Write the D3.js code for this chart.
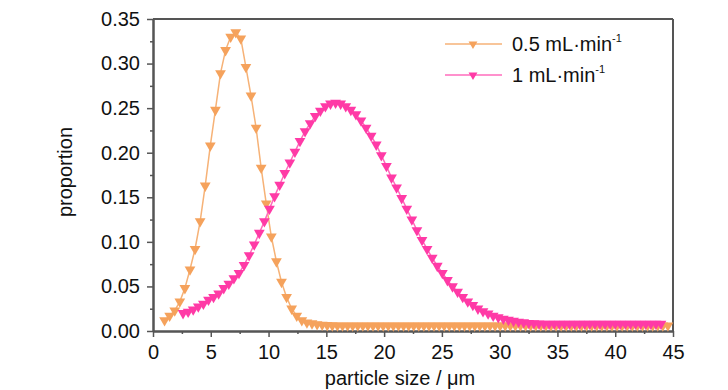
<!DOCTYPE html>
<html>
<head>
<meta charset="utf-8">
<script src="https://cdn.jsdelivr.net/npm/d3@7"></script>
<style>
  body { margin: 0; background: #fff; }
  svg { display: block; font-family: "Liberation Sans", Arial, sans-serif; }
</style>
</head>
<body>
<div id="chart"></div>
<script>
// Series: particle size (um) and proportion
const orangeX = [
  1.00, 1.44, 1.88, 2.32, 2.76, 3.20, 3.64, 4.08, 4.52, 4.96,
  5.40, 5.84, 6.28, 6.72, 7.16, 7.60, 8.04, 8.48, 8.92, 9.36,
  9.80, 10.24, 10.68, 11.12, 11.56, 12.00, 12.44, 12.88, 13.32, 13.76,
  14.20, 14.64, 15.08, 15.52, 15.96, 16.40, 16.84, 17.28, 17.72, 18.16,
  18.60, 19.04, 19.48, 19.92, 20.36, 20.80, 21.24, 21.68, 22.12, 22.56,
  23.00, 23.44, 23.88, 24.32, 24.76, 25.20, 25.64, 26.08, 26.52, 26.96,
  27.40, 27.84, 28.28, 28.72, 29.16, 29.60, 30.04, 30.48, 30.92, 31.36,
  31.80, 32.24, 32.68, 33.12, 33.56, 34.00, 34.44, 34.88, 35.32, 35.76,
  36.20, 36.64, 37.08, 37.52, 37.96, 38.40, 38.84, 39.28, 39.72, 40.16,
  40.60, 41.04, 41.48, 41.92, 42.36, 42.80, 43.24, 43.68, 44.12, 44.56
];
const orangeY = [
  0.012, 0.017, 0.023, 0.033, 0.048, 0.069, 0.092, 0.123, 0.163, 0.208,
  0.248, 0.289, 0.315, 0.330, 0.335, 0.328, 0.296, 0.264, 0.228, 0.183,
  0.143, 0.106, 0.078, 0.055, 0.038, 0.025, 0.017, 0.012, 0.0095, 0.0085,
  0.0075, 0.007, 0.0065, 0.0062, 0.006, 0.006, 0.006, 0.006, 0.006, 0.006,
  0.006, 0.006, 0.006, 0.006, 0.006, 0.006, 0.006, 0.006, 0.006, 0.006,
  0.006, 0.006, 0.006, 0.006, 0.006, 0.006, 0.006, 0.006, 0.006, 0.006,
  0.006, 0.006, 0.006, 0.006, 0.006, 0.006, 0.006, 0.006, 0.006, 0.006,
  0.006, 0.006, 0.006, 0.006, 0.006, 0.006, 0.006, 0.006, 0.006, 0.006,
  0.006, 0.006, 0.006, 0.006, 0.006, 0.006, 0.006, 0.006, 0.006, 0.006,
  0.006, 0.006, 0.006, 0.006, 0.006, 0.006, 0.006, 0.006, 0.006, 0.006
];
const pinkX = [
  2.60, 3.04, 3.48, 3.92, 4.36, 4.80, 5.24, 5.68, 6.12, 6.56,
  7.00, 7.44, 7.88, 8.32, 8.76, 9.20, 9.64, 10.08, 10.52, 10.96,
  11.40, 11.84, 12.28, 12.72, 13.16, 13.60, 14.04, 14.48, 14.92, 15.36,
  15.80, 16.24, 16.68, 17.12, 17.56, 18.00, 18.44, 18.88, 19.32, 19.76,
  20.20, 20.64, 21.08, 21.52, 21.96, 22.40, 22.84, 23.28, 23.72, 24.16,
  24.60, 25.04, 25.48, 25.92, 26.36, 26.80, 27.24, 27.68, 28.12, 28.56,
  29.00, 29.44, 29.88, 30.32, 30.76, 31.20, 31.64, 32.08, 32.52, 32.96,
  33.40, 33.84, 34.28, 34.72, 35.16, 35.60, 36.04, 36.48, 36.92, 37.36,
  37.80, 38.24, 38.68, 39.12, 39.56, 40.00, 40.44, 40.88, 41.32, 41.76,
  42.20, 42.64, 43.08, 43.52, 43.96
];
const pinkY = [
  0.020, 0.0215, 0.024, 0.0275, 0.0305, 0.035, 0.038, 0.042, 0.048, 0.053,
  0.059, 0.065, 0.074, 0.085, 0.097, 0.110, 0.123, 0.137, 0.151, 0.164,
  0.177, 0.189, 0.201, 0.213, 0.224, 0.233, 0.241, 0.247, 0.252, 0.255,
  0.256, 0.255, 0.252, 0.248, 0.243, 0.236, 0.228, 0.219, 0.209, 0.197,
  0.185, 0.172, 0.161, 0.149, 0.137, 0.125, 0.113, 0.102, 0.092, 0.082,
  0.073, 0.065, 0.057, 0.050, 0.044, 0.038, 0.033, 0.029, 0.025, 0.022,
  0.0195, 0.017, 0.0153, 0.0137, 0.0124, 0.0113, 0.0104, 0.0096, 0.0090, 0.0086,
  0.0083, 0.0081, 0.0080, 0.008, 0.008, 0.008, 0.008, 0.008, 0.008, 0.008,
  0.008, 0.008, 0.008, 0.008, 0.008, 0.008, 0.008, 0.008, 0.008, 0.008,
  0.008, 0.008, 0.008, 0.008, 0.008
];
const xTicks = [0, 5, 10, 15, 20, 25, 30, 35, 40, 45];
const xMinorTicks = [2.5, 7.5, 12.5, 17.5, 22.5, 27.5, 32.5, 37.5, 42.5];
const yTicks = [0, 0.05, 0.10, 0.15, 0.20, 0.25, 0.30, 0.35];
const yMinorTicks = [0.025, 0.075, 0.125, 0.175, 0.225, 0.275, 0.325];
const seriesLabels = ["0.5 mL·min", "1 mL·min"];

const width = 728, height = 390;
const plot = { left: 153, right: 673, top: 19, bottom: 331 };
const axisColor = "#555";

const svg = d3.select("#chart").append("svg")
  .attr("width", width)
  .attr("height", height);

const x = d3.scaleLinear().domain([0, 45]).range([plot.left, plot.right]);
const y = d3.scaleLinear().domain([0, 0.35]).range([plot.bottom, plot.top]);

// frame top + right
svg.append("line")
  .attr("x1", plot.left).attr("x2", plot.right)
  .attr("y1", plot.top).attr("y2", plot.top)
  .attr("stroke", axisColor).attr("stroke-width", 2);
svg.append("line")
  .attr("x1", plot.right).attr("x2", plot.right)
  .attr("y1", plot.top).attr("y2", plot.bottom)
  .attr("stroke", axisColor).attr("stroke-width", 2);

// axes
const styleAxis = g => {
  g.select(".domain").attr("stroke", axisColor).attr("stroke-width", 2);
  g.selectAll(".tick line").attr("stroke", axisColor).attr("stroke-width", 1.5);
  g.selectAll(".tick text").attr("fill", "#111").style("font-size", "20px");
};

svg.append("g")
  .attr("transform", `translate(0,${plot.bottom})`)
  .call(d3.axisBottom(x).tickValues(xMinorTicks).tickSize(3).tickSizeOuter(0).tickFormat(""))
  .call(styleAxis);
svg.append("g")
  .attr("transform", `translate(0,${plot.bottom})`)
  .call(d3.axisBottom(x).tickValues(xTicks).tickSize(6).tickSizeOuter(0).tickPadding(8).tickFormat(d3.format("d")))
  .call(styleAxis);

svg.append("g")
  .attr("transform", `translate(${plot.left},0)`)
  .call(d3.axisLeft(y).tickValues(yMinorTicks).tickSize(3).tickSizeOuter(0).tickFormat(""))
  .call(styleAxis);
svg.append("g")
  .attr("transform", `translate(${plot.left},0)`)
  .call(d3.axisLeft(y).tickValues(yTicks).tickSize(6).tickSizeOuter(0).tickPadding(7).tickFormat(d3.format(".2f")))
  .call(styleAxis);

// axis titles
svg.append("text")
  .attr("x", 400).attr("y", 385)
  .attr("text-anchor", "middle")
  .attr("fill", "#111")
  .style("font-size", "20px")
  .text("particle size / μm");

svg.append("text")
  .attr("transform", "translate(65,172) rotate(-90)")
  .attr("text-anchor", "middle")
  .attr("dy", "0.35em")
  .attr("fill", "#111")
  .style("font-size", "20px")
  .text("proportion");

// series
const series = [
  { xs: orangeX, ys: orangeY, line: "#f6b277", fill: "#f5a25c", label: seriesLabels[0] },
  { xs: pinkX, ys: pinkY, line: "#ff6cbc", fill: "#ff3aa6", label: seriesLabels[1] }
];

const tri = d3.symbol().type(d3.symbolTriangle).size(50);

series.forEach(s => {
  const pts = s.xs.map((v, i) => [v, s.ys[i]]);
  svg.append("path")
    .datum(pts)
    .attr("fill", "none")
    .attr("stroke", s.line)
    .attr("stroke-width", 1.5)
    .attr("d", d3.line().x(d => x(d[0])).y(d => y(d[1])));
  svg.append("g").selectAll("path")
    .data(pts)
    .join("path")
    .attr("d", tri)
    .attr("transform", d => `translate(${x(d[0])},${y(d[1])}) rotate(180)`)
    .attr("fill", s.fill);
});

// legend
const legend = svg.append("g");
series.forEach((s, i) => {
  const ly = 44 + i * 31;
  legend.append("line")
    .attr("x1", 445).attr("x2", 502)
    .attr("y1", ly).attr("y2", ly)
    .attr("stroke", s.line).attr("stroke-width", 1.5);
  legend.append("path")
    .attr("d", d3.symbol().type(d3.symbolTriangle).size(34))
    .attr("transform", `translate(473,${ly}) rotate(180)`)
    .attr("fill", s.fill);
  const t = legend.append("text")
    .attr("x", 512).attr("y", ly + 7)
    .attr("fill", "#111")
    .style("font-size", "20px")
    .text(s.label);
  t.append("tspan")
    .attr("dy", -9)
    .style("font-size", "11px")
    .text("-1");
});
</script>
</body>
</html>
